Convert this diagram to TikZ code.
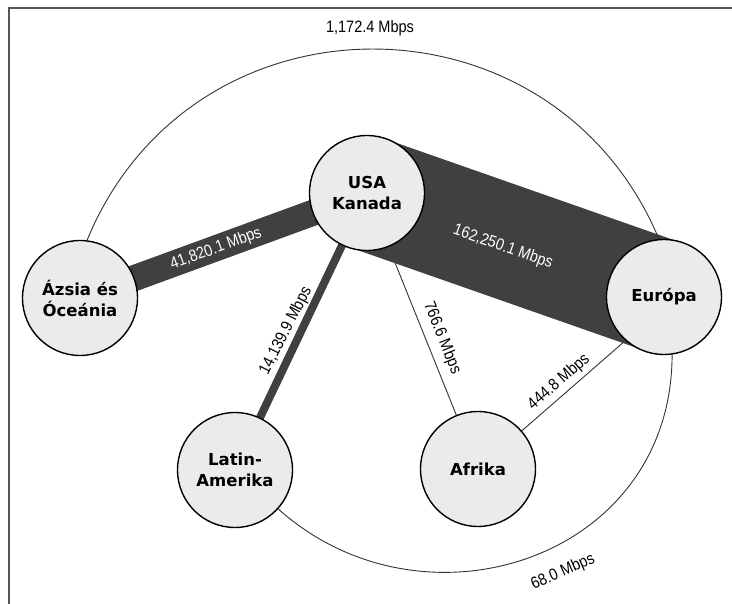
\documentclass[tikz,border=0pt]{standalone}
\usepackage{fontspec}
\setmainfont{DejaVu Sans}
\newfontfamily\lblfont[FakeStretch=0.88]{Liberation Sans}
\pgfdeclarelayer{background}
\pgfsetlayers{background,main}
\definecolor{regfill}{HTML}{EBEBEB}
\definecolor{bandgray}{HTML}{404040}
\definecolor{linegray}{HTML}{333333}
\definecolor{framegray}{HTML}{555555}
\tikzset{
  region/.style={circle, draw=black, line width=1.4pt, fill=regfill, minimum size=115pt,
    inner sep=0pt, align=center, font=\fontsize{16.5}{21}\selectfont\bfseries},
  lbl/.style={font=\lblfont\fontsize{16.5}{18}\selectfont, inner sep=0pt},
  wlbl/.style={lbl, text=white},
  band/.style={draw=bandgray, line cap=butt},
  thinlink/.style={draw=linegray, line width=0.9pt},
  framerule/.style={draw=framegray, line width=2pt}
}
\begin{document}
\begin{tikzpicture}[x=1pt,y=-1pt]
\useasboundingbox (0,0) rectangle (732,604);
\coordinate (fb) at (9,604);
\coordinate (fc) at (9,8);
\coordinate (fr) at (732,8);
\coordinate (bbtl) at (0,0);
\coordinate (bbbr) at (732,604);

\node[region] (na) at (367,193) {USA\\Kanada};
\node[region] (as) at (80,298) {Ázsia és\\Óceánia};
\node[region] (eu) at (664,297) {Európa};
\node[region] (la) at (235,470) {Latin-\\Amerika};
\node[region] (af) at (478,469) {Afrika};

\begin{pgfonlayer}{background}
  \fill[white] (bbtl) rectangle (bbbr);
  \draw[framerule] (fb) -- (fc) -- (fr);
  \draw[thinlink] (na.center) -- (af.center);
  \draw[thinlink] (af.center) -- ([yshift=-10pt]eu.center);
  \draw[band, line width=114pt] (na.center) -- (eu.center);
  \draw[band, line width=26pt] (as.center) -- (na.center);
  \draw[band, line width=8pt] (na.center) -- (la.center);
\end{pgfonlayer}

\draw[thinlink] (as.83) .. controls (192,-15) and (553,-14) .. (eu.95);
\draw[thinlink] (la.-42) .. controls (423,639) and (672,560) .. (eu.-82);

\node[lbl] (l1) at (370,28) {1,172.4 Mbps};
\node[wlbl, rotate=20] (l2) at (216,249) {41,820.1 Mbps};
\node[wlbl, rotate=-19.5] (l3) at (503,247) {162,250.1 Mbps};
\node[lbl, rotate=63] (l4) at (286,331) {14,139.9 Mbps};
\node[lbl, rotate=-68] (l5) at (442,338) {766.6 Mbps};
\node[lbl, rotate=41] (l6) at (559,382) {444.8 Mbps};
\node[lbl, rotate=24] (l7) at (563,572) {68.0 Mbps};
\end{tikzpicture}
\end{document}
